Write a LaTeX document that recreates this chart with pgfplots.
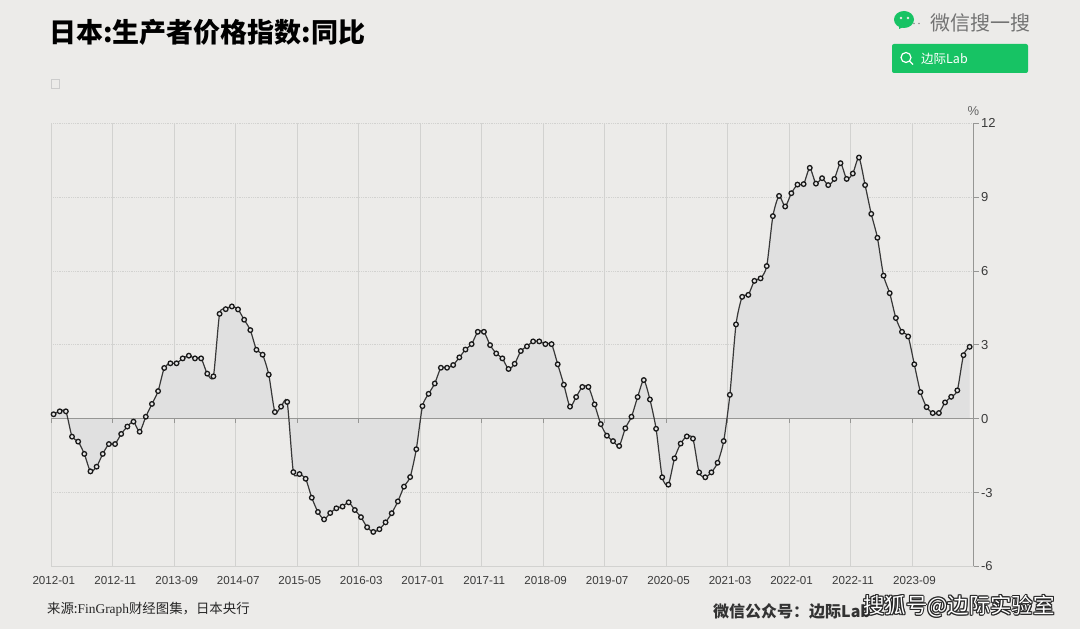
\documentclass[border=0pt]{standalone}
\usepackage{fontspec}
\usepackage{pgfplots}
\usepackage{pgfplotstable}
\pgfplotsset{compat=1.18}
\setmainfont{Liberation Sans}
\newfontfamily\cjk{Noto Sans CJK SC}
\newfontfamily\serifl{Liberation Serif}
\definecolor{bg}{HTML}{ECEBE9}
\definecolor{areafill}{HTML}{E0E0E0}
\definecolor{gridc}{HTML}{D2D2D0}
\definecolor{axisc}{HTML}{969694}
\definecolor{ticktxt}{HTML}{3A3A3A}
\definecolor{wxgreen}{HTML}{17C364}

% Japan PPI yoy, monthly 2012-01 .. 2024-06
\pgfplotstableread{
v
0.18
0.30
0.30
-0.73
-0.93
-1.43
-2.14
-1.95
-1.43
-1.03
-1.03
-0.62
-0.32
-0.12
-0.53
0.08
0.60
1.12
2.06
2.25
2.25
2.45
2.56
2.45
2.45
1.83
1.72
4.26
4.45
4.56
4.44
4.02
3.60
2.80
2.60
1.79
0.27
0.49
0.68
-2.17
-2.25
-2.44
-3.21
-3.79
-4.09
-3.83
-3.64
-3.57
-3.40
-3.71
-4.00
-4.41
-4.60
-4.49
-4.21
-3.84
-3.36
-2.76
-2.37
-1.24
0.51
1.01
1.43
2.07
2.07
2.18
2.49
2.81
3.03
3.53
3.53
2.99
2.65
2.45
2.02
2.23
2.75
2.94
3.14
3.14
3.03
3.03
2.21
1.38
0.49
0.88
1.29
1.29
0.58
-0.22
-0.69
-0.91
-1.11
-0.39
0.08
0.88
1.57
0.78
-0.41
-2.38
-2.68
-1.61
-1.01
-0.72
-0.81
-2.18
-2.38
-2.18
-1.79
-0.91
0.97
3.83
4.95
5.03
5.60
5.70
6.20
8.23
9.05
8.62
9.16
9.51
9.53
10.19
9.55
9.77
9.49
9.74
10.38
9.74
9.96
10.61
9.49
8.32
7.35
5.81
5.10
4.09
3.53
3.34
2.21
1.08
0.47
0.23
0.23
0.66
0.89
1.15
2.58
2.92
}\ppi

\begin{document}
\begin{tikzpicture}[x=1pt,y=1pt]
\fill[bg] (0,0) rectangle (1080,629);
\useasboundingbox (0,0) rectangle (1080,629);

\begin{axis}[
    at={(51.3pt,62.6pt)},
    anchor=south west,
    scale only axis,
    width=922.2pt,
    height=443.1pt,
    xmin=0, xmax=150,
    ymin=-6, ymax=12,
    axis y line*=right,
    axis x line*=bottom,
    axis line style={-,draw=gridc,line width=0.9pt},
    y axis line style={draw=axisc,line width=0.9pt},
    xtick={0,10,...,140},
    xticklabels={2012-01,2012-11,2013-09,2014-07,2015-05,2016-03,2017-01,2017-11,2018-09,2019-07,2020-05,2021-03,2022-01,2022-11,2023-09},
    ytick={-6,-3,0,3,6,9,12},
    tick align=outside,
    x tick style={draw=none},
    y tick style={draw=axisc,line width=0.8pt},
    major tick length=5pt,
    xmajorgrids,
    ymajorgrids,
    x grid style={gridc,line width=0.9pt},
    y grid style={gridc,line width=0.8pt,densely dotted},
    /pgf/number format/assume math mode=true,
    xticklabel style={font=\fontsize{11.6}{12}\selectfont,text=ticktxt,xshift=2.5pt,yshift=-1.5pt},
    yticklabel style={font=\fontsize{13}{14}\selectfont,text=ticktxt,xshift=-1pt},
    clip=false,
]
\addplot[fill=areafill,draw=none,smooth,tension=0.4,forget plot]
    table[x expr=\coordindex+0.37,y=v] {\ppi} \closedcycle;
\draw[axisc,line width=1.1pt] (axis cs:0,0) -- (axis cs:150,0);
\pgfplotsinvokeforeach{0,10,...,140}{
    \draw[axisc,line width=0.8pt] (axis cs:#1,0) -- (axis cs:#1,-0.16);
}
\addplot[color=black!78,line width=1.2pt,smooth,tension=0.4,
    mark=*,mark size=2.3pt,mark options={fill=black!10,draw=black!90,line width=1.3pt}]
    table[x expr=\coordindex+0.37,y=v] {\ppi};
\node[anchor=south,font=\fontsize{13}{14}\selectfont,text=black!60] at (axis cs:150,12.15) {\%};
\end{axis}

% title and small empty legend box
\node[anchor=west,inner sep=0pt,font=\cjk\bfseries\fontsize{27}{30}\selectfont] at (49,597) {日本:生产者价格指数:同比};
\draw[black!20,line width=0.8pt] (51,541) rectangle (59.5,549.5);

% search badge
\fill[wxgreen] (904,609.5) ellipse (10 and 8.5);
\fill[wxgreen] (899,600) -- (906,603) -- (899,604) -- cycle;
\fill[bg] (901,611) circle (1.3);
\fill[bg] (908,611) circle (1.3);
\fill[black!45] (914,605.5) circle (0.9);
\fill[black!45] (919,605.5) circle (0.9);
\node[anchor=west,inner sep=0pt,text=black!55,font=\cjk\fontsize{20}{22}\selectfont] at (930,606) {微信搜一搜};
\fill[wxgreen,rounded corners=2pt] (892,556) rectangle (1028,585);
\draw[white,line width=1.2pt] (906,571.5) circle (5);
\draw[white,line width=1.2pt] (909.5,568) -- (913,564.5);
\node[anchor=west,inner sep=0pt,text=white,font=\cjk\fontsize{12.5}{14}\selectfont] at (921,570.5) {边际Lab};

% footer
\node[anchor=west,inner sep=0pt,text=black!85,font=\cjk\fontsize{13.4}{15}\selectfont] at (47,20) {来源:{\serifl FinGraph}财经图集，日本央行};
\node[anchor=west,inner sep=0pt,text=black!80,font=\cjk\bfseries\fontsize{16}{18}\selectfont] at (713,18) {微信公众号：边际Lab};

% watermark with dark outline
\foreach \dx/\dy in {-1/0,1/0,0/-1,0/1,-0.8/-0.8,0.8/0.8,-0.8/0.8,0.8/-0.8}{
    \node[anchor=west,inner sep=0pt,text=black!85,font=\cjk\fontsize{21.4}{24}\selectfont] at (863+\dx,23+\dy) {搜狐号@边际实验室};
}
\node[anchor=west,inner sep=0pt,text=white,font=\cjk\fontsize{21.4}{24}\selectfont] at (863,23) {搜狐号@边际实验室};
\end{tikzpicture}
\end{document}
